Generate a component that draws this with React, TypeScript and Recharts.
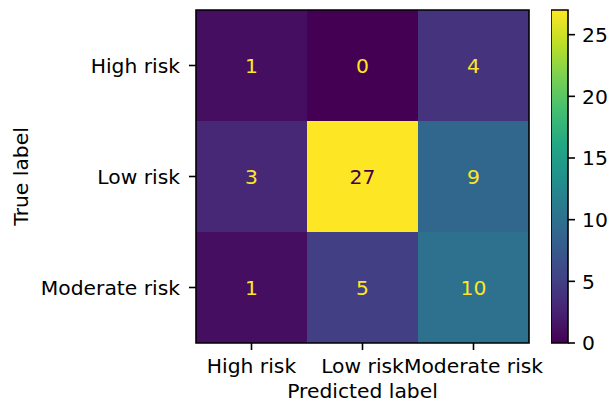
import { ScatterChart, Scatter, XAxis, YAxis, ReferenceArea, Label, BarChart, Bar } from 'recharts';

const classes = ['High risk', 'Low risk', 'Moderate risk'];

// rows = true label, columns = predicted label
const highRiskRow = [1, 0, 4];
const lowRiskRow = [3, 27, 9];
const moderateRiskRow = [1, 5, 10];
const matrixRows = [highRiskRow, lowRiskRow, moderateRiskRow];

const colorbarTicks = [0, 5, 10, 15, 20, 25];

// viridis sampled at 0, 0.1, ..., 1
const viridis = [
  '#440154', '#482475', '#414487', '#355f8d', '#2a788e', '#21918c',
  '#22a884', '#44bf70', '#7ad151', '#bddf26', '#fde725',
];

const allCounts = matrixRows.flat();
const vmin = Math.min(...allCounts);
const vmax = Math.max(...allCounts);

const hex = (c: string) => [1, 3, 5].map((i) => parseInt(c.slice(i, i + 2), 16));

const colormap = (t: number) => {
  const p = Math.max(0, Math.min(1, t)) * (viridis.length - 1);
  const i = Math.min(Math.floor(p), viridis.length - 2);
  const f = p - i;
  const a = hex(viridis[i]);
  const b = hex(viridis[i + 1]);
  const mix = a.map((v, k) => Math.round(v + (b[k] - v) * f));
  return `rgb(${mix[0]},${mix[1]},${mix[2]})`;
};

const cellData = matrixRows.flatMap((row, r) =>
  row.map((v, c) => ({ x: c, y: r, v }))
);

const textColor = (v: number) => (v < (vmin + vmax) / 2 ? viridis[viridis.length - 1] : viridis[0]);

const FONT = 20.3;

const CountText = (props: any) => {
  const { cx, cy, payload } = props;
  return (
    <text x={cx} y={cy} dy="0.36em" textAnchor="middle" fontSize={FONT} fill={textColor(payload.v)}>
      {payload.v}
    </text>
  );
};

const tickStyle = { fill: '#000', fontSize: FONT };
const tickLineStyle = { stroke: '#000', strokeWidth: 1.6 };

export default function App() {
  return (
    <div style={{ position: 'absolute', left: 0, top: 0, width: 615, height: 406, background: '#fff', fontFamily: 'DejaVu Sans' }}>
      <svg width={0} height={0} style={{ position: 'absolute' }}>
        <defs>
          <linearGradient id="viridisBar" x1="0" y1="1" x2="0" y2="0">
            {viridis.map((c, i) => (
              <stop key={c} offset={i / (viridis.length - 1)} stopColor={c} />
            ))}
          </linearGradient>
        </defs>
      </svg>

      <div style={{ position: 'absolute', left: 0, top: 0 }}>
        <ScatterChart width={560} height={406} margin={{ top: 10, right: 31, bottom: 0, left: 0 }}>
          <XAxis
            type="number"
            dataKey="x"
            domain={[-0.5, 2.5]}
            ticks={[0, 1, 2]}
            interval={0}
            tickFormatter={(i: number) => classes[i]}
            tick={tickStyle}
            tickLine={tickLineStyle}
            tickSize={7}
            tickMargin={9}
            axisLine={false}
            height={63}
            allowDataOverflow
          >
            <Label value="Predicted label" position="insideBottom" offset={8} fill="#000" fontSize={FONT} />
          </XAxis>
          <YAxis
            type="number"
            dataKey="y"
            domain={[-0.5, 2.5]}
            ticks={[0, 1, 2]}
            interval={0}
            reversed
            tickFormatter={(i: number) => classes[i]}
            tick={tickStyle}
            tickLine={tickLineStyle}
            tickSize={7}
            tickMargin={9}
            axisLine={false}
            width={196}
            allowDataOverflow
          >
            <Label
              content={(p: any) => {
                const vb = p.viewBox;
                const cx = vb.x + 21;
                const cy = vb.y + vb.height / 2;
                return (
                  <text transform={`translate(${cx},${cy}) rotate(-90)`} textAnchor="middle" dy="0.35em" fontSize={FONT} fill="#000">
                    True label
                  </text>
                );
              }}
            />
          </YAxis>
          {cellData.map((d) => (
            <ReferenceArea
              key={`${d.x}-${d.y}`}
              x1={d.x - 0.5}
              x2={d.x + 0.5}
              y1={d.y - 0.5}
              y2={d.y + 0.5}
              fill={colormap((d.v - vmin) / (vmax - vmin))}
              fillOpacity={1}
              stroke="none"
              ifOverflow="visible"
            />
          ))}
          <ReferenceArea
            x1={-0.5}
            x2={2.5}
            y1={-0.5}
            y2={2.5}
            fill="none"
            stroke="#000"
            strokeWidth={1.6}
            ifOverflow="visible"
          />
          <Scatter data={cellData} shape={CountText} isAnimationActive={false} />
        </ScatterChart>
      </div>

      <div style={{ position: 'absolute', left: 551, top: 0 }}>
        <BarChart
          width={64}
          height={406}
          data={[{ name: 'count', v: vmax }]}
          margin={{ top: 10, right: 0, bottom: 63, left: 0 }}
          barCategoryGap={0}
        >
          <XAxis dataKey="name" hide />
          <YAxis
            orientation="right"
            type="number"
            domain={[0, vmax]}
            ticks={colorbarTicks}
            interval={0}
            tick={tickStyle}
            tickLine={tickLineStyle}
            tickSize={7}
            tickMargin={7}
            axisLine={false}
            width={47}
          />
          <Bar dataKey="v" fill="url(#viridisBar)" stroke="#000" strokeWidth={1.6} isAnimationActive={false} />
        </BarChart>
      </div>
    </div>
  );
}
